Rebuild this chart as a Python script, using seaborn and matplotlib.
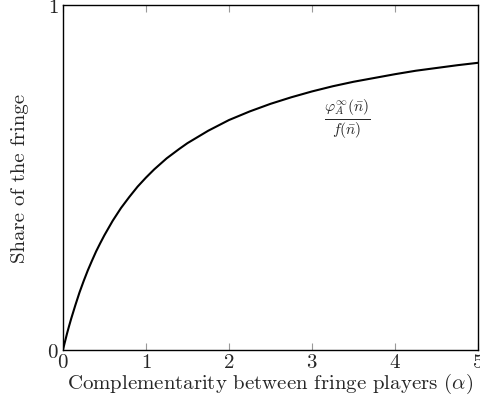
import numpy as np
import pandas as pd
import seaborn as sns
import matplotlib.pyplot as plt

# values
alpha = [0, 0.025, 0.05, 0.075, 0.1, 0.15, 0.2, 0.25, 0.3, 0.35, 0.4, 0.45, 0.5, 0.6, 0.7,
         0.8, 0.9, 1.0, 1.1, 1.25, 1.4, 1.5, 1.75, 2.0, 2.25, 2.5, 2.75, 3.0, 3.25, 3.5,
         3.75, 4.0, 4.25, 4.5, 4.75, 5.0]
share = [0, 0.024, 0.048, 0.070, 0.091, 0.130, 0.167, 0.200, 0.231, 0.259, 0.286, 0.310,
         0.333, 0.375, 0.412, 0.444, 0.474, 0.500, 0.524, 0.556, 0.583, 0.600, 0.636,
         0.667, 0.692, 0.714, 0.733, 0.750, 0.765, 0.778, 0.789, 0.800, 0.810, 0.818,
         0.826, 0.833]
x_ticks = [0, 1, 2, 3, 4, 5]
y_ticks = [0, 1]

df = pd.DataFrame({'alpha': alpha, 'share': share})

sns.set_style('ticks')
plt.rcParams['font.family'] = 'serif'
plt.rcParams['font.serif'] = ['cmr10', 'DejaVu Serif']
plt.rcParams['mathtext.fontset'] = 'cm'
plt.rcParams['axes.formatter.use_mathtext'] = True

fig = plt.figure(figsize=(4.8, 4.14), dpi=100)
ax = fig.add_axes([0.131, 0.152, 0.865, 0.833])
sns.lineplot(data=df, x='alpha', y='share', ax=ax, color='black', linewidth=1.5)

ax.set_xlim(0, 5)
ax.set_ylim(0, 1)
ax.set_xticks(x_ticks)
ax.set_yticks(y_ticks)
ax.tick_params(axis='x', direction='in', top=True, length=5, color='#999999', labelsize=15, pad=2)
ax.tick_params(axis='y', length=0, labelsize=15, pad=3)
for s in ax.spines.values():
    s.set_visible(True)
    s.set_linewidth(1.0)
    s.set_color('black')

ax.set_xlabel(r'Complementarity between fringe players ($\alpha$)', fontsize=15, labelpad=0)
ax.set_ylabel('Share of the fringe', fontsize=15, labelpad=13)
ax.text(3.42, 0.675, r'$\frac{\varphi_A^{\infty}(\bar{n})}{f(\bar{n})}$', fontsize=16,
        ha='center', va='center')

fig.savefig('out.png', dpi=100)
